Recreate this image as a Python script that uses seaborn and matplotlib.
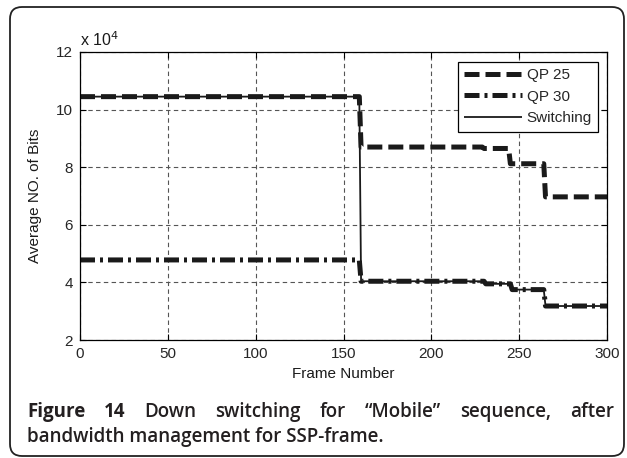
import numpy as np
import pandas as pd
import matplotlib
matplotlib.use("Agg")
import matplotlib.pyplot as plt
import seaborn as sns
from matplotlib.patches import FancyBboxPatch

# ---- data (values in units of 10^4 bits) ----
frames = np.arange(0, 301)
qp25_breaks = [0, 160, 230, 245, 265]
qp25_levels = [10.45, 8.70, 8.65, 8.12, 6.97]
qp30_breaks = [0, 160, 231, 246, 265]
qp30_levels = [4.78, 4.04, 3.95, 3.75, 3.18]
switch_frame = 160
series_names = ["QP 25", "QP 30", "Switching"]
x_ticks = [0, 50, 100, 150, 200, 250, 300]
y_ticks = [2, 4, 6, 8, 10, 12]


def step_series(breaks, levels):
    idx = np.searchsorted(breaks, frames, side="right") - 1
    return np.asarray(levels)[idx]


qp25 = step_series(qp25_breaks, qp25_levels)
qp30 = step_series(qp30_breaks, qp30_levels)
switching = np.where(frames < switch_frame, qp25, qp30)

df = pd.DataFrame({"Frame": np.tile(frames, 3),
                   "Bits": np.concatenate([qp25, qp30, switching]),
                   "Series": np.repeat(series_names, len(frames))})

sns.set_theme(style="white")
plt.rcParams["font.family"] = ["Liberation Sans", "DejaVu Sans"]

W, H, DPI = 627, 458, 100
fig = plt.figure(figsize=(W / DPI, H / DPI), dpi=DPI)
fig.patch.set_facecolor("white")
ax = fig.add_axes([80 / W, 1 - 340 / H, 527 / W, 288 / H])

styles = {
    "QP 25": dict(lw=3.6, dashes=(3.0, 1.2)),
    "QP 30": dict(lw=3.6, dashes=(3.0, 1.0, 0.6, 1.0)),
    "Switching": dict(lw=1.3, dashes=None),
}
for name in series_names:
    sub = df[df["Series"] == name]
    st = styles[name]
    sns.lineplot(data=sub, x="Frame", y="Bits", ax=ax, color="#1a1a1a",
                 lw=st["lw"], label=name, legend=False)
    l = ax.lines[-1]
    if st["dashes"] is not None:
        l.set_dashes(st["dashes"])
    l.set_solid_capstyle("butt")
    l.set_dash_capstyle("butt")

tfs = 11
ax.set_xlim(0, 300)
ax.set_ylim(2, 12)
ax.set_xticks(x_ticks)
ax.set_yticks(y_ticks)
ax.set_xticklabels([str(t) for t in x_ticks], fontsize=tfs)
ax.set_yticklabels([str(t) for t in y_ticks], fontsize=tfs)
ax.tick_params(direction="in", length=4, width=0.8, color="black",
               top=True, right=True, bottom=True, left=True, pad=5)
for s in ax.spines.values():
    s.set_visible(True)
    s.set_color("black")
    s.set_linewidth(0.9)
ax.grid(True, color="#555555", lw=0.8, linestyle=(0, (4, 3)))
ax.set_axisbelow(True)
ax.set_xlabel("Frame Number", fontsize=tfs, labelpad=4, color="#1a1a1a")
ax.set_ylabel("Average NO. of Bits", fontsize=tfs, labelpad=10, color="#1a1a1a")
ax.text(0.0, 1.01, r"x 10$^4$", transform=ax.transAxes, fontsize=11.5,
        ha="left", va="bottom", color="#1a1a1a")

leg = ax.legend(loc="upper right", bbox_to_anchor=(0.983, 0.965), fontsize=tfs,
                frameon=True, fancybox=False, framealpha=1, edgecolor="black",
                handlelength=3.8, handletextpad=0.3, borderpad=0.4,
                labelspacing=0.5, borderaxespad=0)
leg.get_frame().set_linewidth(0.9)
for lh, name in zip(leg.get_lines(), series_names):
    lh.set_color("#1a1a1a")
    lh.set_linewidth(styles[name]["lw"])
    if styles[name]["dashes"] is not None:
        lh.set_dashes(styles[name]["dashes"])

# rounded outer border (pixel coordinates)
border = FancyBboxPatch((10, 2), 614, 449, boxstyle="round,pad=0,rounding_size=12",
                        transform=None, fill=False, edgecolor="#222222", lw=1.3)
fig.patches.append(border)

# caption, first line justified
cap_font = ["Open Sans", "DejaVu Sans"]
fs = 13.5
line1 = [("Figure", "bold"), ("14", "bold"), ("Down", "semibold"), ("switching", "semibold"),
         ("for", "semibold"), ("\u201cMobile\u201d", "semibold"),
         ("sequence,", "semibold"), ("after", "semibold")]
x0, x1 = 27, 614
y1 = H - 412
y2 = H - 437
renderer = fig.canvas.get_renderer()
texts = []
for word, wt in line1:
    t = fig.text(0, y1 / H, word, fontsize=fs, fontweight=wt, family=cap_font,
                 color="#231f20", ha="left", va="center")
    texts.append(t)
widths = [t.get_window_extent(renderer).width for t in texts]
gap = (x1 - x0 - sum(widths)) / (len(texts) - 1)
xx = x0
for t, w in zip(texts, widths):
    t.set_x(xx / W)
    xx += w + gap
fig.text(x0 / W, y2 / H, "bandwidth management for SSP-frame.", fontsize=fs,
         fontweight="semibold", family=cap_font, color="#231f20", ha="left", va="center")

fig.savefig("out.png", dpi=DPI, facecolor="white")
